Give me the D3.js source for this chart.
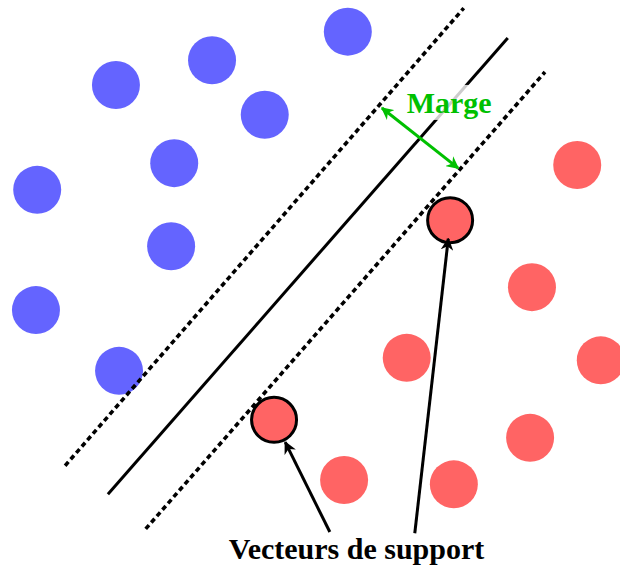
<!DOCTYPE html>
<html><head><meta charset="utf-8">
<script src="https://cdn.jsdelivr.net/npm/d3@7"></script>
<style>html,body{margin:0;padding:0;background:#fff;}svg{display:block;}</style>
</head><body>
<svg id="c" width="620" height="568"></svg>
<script>
// Data in feature units
const blueX = [5.61, 3.42, 1.87, 4.27, 2.81, 0.60, 2.76, 0.58, 1.92];
const blueY = [8.65, 8.19, 7.79, 7.31, 6.53, 6.10, 5.19, 4.16, 3.18];
const redX = [9.31, 7.26, 8.58, 6.56, 9.69, 4.42, 8.55, 5.55, 7.32];
const redY = [6.50, 5.61, 4.53, 3.39, 3.35, 2.39, 2.10, 1.42, 1.35];
const redSupport = [false, true, false, false, false, true, false, false, false];
// hyperplane and margins: [x1,y1,x2,y2]
const hyperplane = [1.74, 1.19, 8.19, 8.55];
const marginUpper = [1.05, 1.65, 7.48, 9.03];
const marginLower = [2.35, 0.63, 8.79, 8.00];
const marginArrow = [6.16, 7.42, 7.39, 6.45];
const supportArrows = [[5.32, 0.58, 4.60, 2.03], [6.69, 0.56, 7.23, 5.31]];
const labels = ["Marge", "Vecteurs de support"];

const W = 620, H = 568;
const x = d3.scaleLinear().domain([0, 10]).range([0, W]);
const y = d3.scaleLinear().domain([0, H / 62]).range([H, 0]);
const svg = d3.select("#c");

const defs = svg.append("defs");
function marker(id, color, orient) {
  defs.append("marker").attr("id", id).attr("viewBox", "0 0 10 10")
    .attr("refX", 9).attr("refY", 5).attr("markerWidth", 4.2).attr("markerHeight", 4.2)
    .attr("markerUnits", "strokeWidth").attr("orient", orient)
    .append("path").attr("d", "M0,0 L10,5 L0,10 L3,5 Z").attr("fill", color);
}
marker("ag", "#00c000", "auto-start-reverse");
marker("ak", "#000", "auto");

const blue = blueX.map((v, i) => ({x: v, y: blueY[i]}));
const red = redX.map((v, i) => ({x: v, y: redY[i], s: redSupport[i]}));

svg.append("g").selectAll("circle").data(blue).join("circle")
  .attr("cx", d => x(d.x)).attr("cy", d => y(d.y)).attr("r", 24).attr("fill", "#6464ff");
svg.append("g").selectAll("circle").data(red.filter(d => !d.s)).join("circle")
  .attr("cx", d => x(d.x)).attr("cy", d => y(d.y)).attr("r", 24).attr("fill", "#ff6464");

function line(l, dash, w) {
  svg.append("line").attr("x1", x(l[0])).attr("y1", y(l[1])).attr("x2", x(l[2])).attr("y2", y(l[3]))
    .attr("stroke", "#000").attr("stroke-width", w || 3).attr("stroke-dasharray", dash || null);
}
line(hyperplane);
line(marginUpper, "5,3.5", 3.6);
line(marginLower, "5,3.5", 3.6);

svg.append("g").selectAll("circle").data(red.filter(d => d.s)).join("circle")
  .attr("cx", d => x(d.x)).attr("cy", d => y(d.y)).attr("r", 22.5).attr("fill", "#ff6464")
  .attr("stroke", "#000").attr("stroke-width", 3);

// Marge label with translucent white box
const mx = x(6.56), my = y(7.34);
const mt = svg.append("text").attr("x", mx).attr("y", my)
  .attr("font-family", "Liberation Serif, Times New Roman, serif").attr("font-weight", "bold")
  .attr("font-size", 30).attr("fill", "#00c000").text(labels[0]);
const bb = mt.node().getBBox();
svg.insert("rect", "text").attr("x", bb.x - 2).attr("y", bb.y - 1).attr("width", bb.width + 4).attr("height", bb.height + 2)
  .attr("fill", "#fff").attr("fill-opacity", 0.8);

svg.append("line").attr("x1", x(marginArrow[0])).attr("y1", y(marginArrow[1]))
  .attr("x2", x(marginArrow[2])).attr("y2", y(marginArrow[3]))
  .attr("stroke", "#00c000").attr("stroke-width", 3)
  .attr("marker-start", "url(#ag)").attr("marker-end", "url(#ag)");

supportArrows.forEach(a => {
  svg.append("line").attr("x1", x(a[0])).attr("y1", y(a[1])).attr("x2", x(a[2])).attr("y2", y(a[3]))
    .attr("stroke", "#000").attr("stroke-width", 3).attr("marker-end", "url(#ak)");
});

svg.append("text").attr("x", x(5.75)).attr("y", y(0.145)).attr("text-anchor", "middle")
  .attr("font-family", "Liberation Serif, Times New Roman, serif").attr("font-weight", "bold")
  .attr("font-size", 30).attr("fill", "#000").text(labels[1]);
</script>
</body></html>
